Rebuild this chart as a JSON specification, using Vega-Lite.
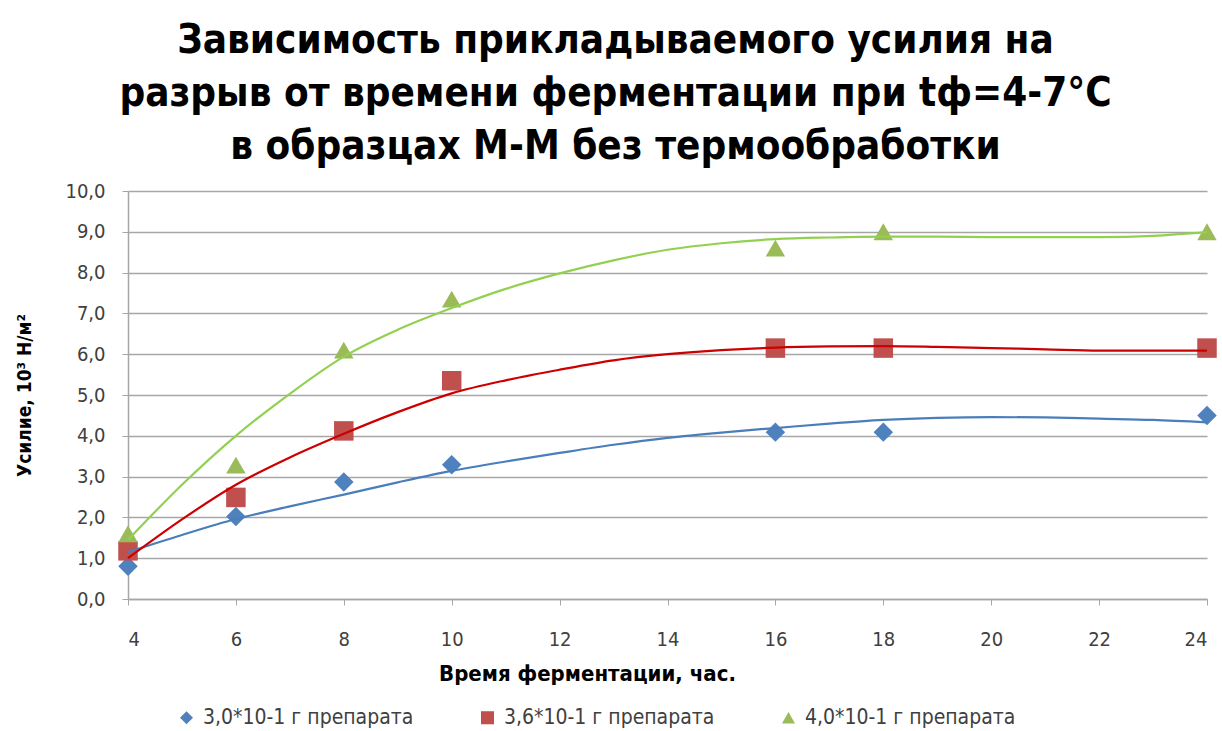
{
  "$schema": "https://vega.github.io/schema/vega-lite/v6.json",
  "width": 1079,
  "height": 408,
  "autosize": {"type": "none"},
  "padding": {"left": 128, "top": 191, "right": 15, "bottom": 132},
  "background": "white",
  "config": {
    "font": "DejaVu Sans Condensed, DejaVu Sans, sans-serif",
    "view": {"stroke": null}
  },
  "title": {
    "text": ["Зависимость прикладываемого усилия на", "разрыв от времени ферментации при tф=4-7°C", "в образцах М-М без термообработки"],
    "fontSize": 40,
    "fontWeight": "bold",
    "color": "#000000",
    "lineHeight": 53,
    "anchor": "middle",
    "dx": -52,
    "offset": 14,
    "font": "DejaVu Sans Condensed, DejaVu Sans, sans-serif"
  },
  "datasets": {
    "points": [
      {"series": "3,0*10-1 г препарата", "time": 4, "force": 0.8},
      {"series": "3,0*10-1 г препарата", "time": 6, "force": 2.02},
      {"series": "3,0*10-1 г препарата", "time": 8, "force": 2.87},
      {"series": "3,0*10-1 г препарата", "time": 10, "force": 3.29},
      {"series": "3,0*10-1 г препарата", "time": 16, "force": 4.09},
      {"series": "3,0*10-1 г препарата", "time": 18, "force": 4.09},
      {"series": "3,0*10-1 г препарата", "time": 24, "force": 4.5},
      {"series": "3,6*10-1 г препарата", "time": 4, "force": 1.18},
      {"series": "3,6*10-1 г препарата", "time": 6, "force": 2.49},
      {"series": "3,6*10-1 г препарата", "time": 8, "force": 4.12},
      {"series": "3,6*10-1 г препарата", "time": 10, "force": 5.35},
      {"series": "3,6*10-1 г препарата", "time": 16, "force": 6.15},
      {"series": "3,6*10-1 г препарата", "time": 18, "force": 6.15},
      {"series": "3,6*10-1 г препарата", "time": 24, "force": 6.15},
      {"series": "4,0*10-1 г препарата", "time": 4, "force": 1.6},
      {"series": "4,0*10-1 г препарата", "time": 6, "force": 3.28},
      {"series": "4,0*10-1 г препарата", "time": 8, "force": 6.1},
      {"series": "4,0*10-1 г препарата", "time": 10, "force": 7.35},
      {"series": "4,0*10-1 г препарата", "time": 16, "force": 8.6},
      {"series": "4,0*10-1 г препарата", "time": 18, "force": 9.0},
      {"series": "4,0*10-1 г препарата", "time": 24, "force": 9.0}
    ],
    "trend": [
      {"series": "3,0*10-1 г препарата", "time": 4, "force": 1.15},
      {"series": "3,0*10-1 г препарата", "time": 5, "force": 1.57},
      {"series": "3,0*10-1 г препарата", "time": 6, "force": 1.96},
      {"series": "3,0*10-1 г препарата", "time": 7, "force": 2.27},
      {"series": "3,0*10-1 г препарата", "time": 8, "force": 2.56},
      {"series": "3,0*10-1 г препарата", "time": 9, "force": 2.86},
      {"series": "3,0*10-1 г препарата", "time": 10, "force": 3.14},
      {"series": "3,0*10-1 г препарата", "time": 11, "force": 3.37},
      {"series": "3,0*10-1 г препарата", "time": 12, "force": 3.58},
      {"series": "3,0*10-1 г препарата", "time": 13, "force": 3.78},
      {"series": "3,0*10-1 г препарата", "time": 14, "force": 3.95},
      {"series": "3,0*10-1 г препарата", "time": 15, "force": 4.08},
      {"series": "3,0*10-1 г препарата", "time": 16, "force": 4.19},
      {"series": "3,0*10-1 г препарата", "time": 17, "force": 4.3},
      {"series": "3,0*10-1 г препарата", "time": 18, "force": 4.39},
      {"series": "3,0*10-1 г препарата", "time": 19, "force": 4.44},
      {"series": "3,0*10-1 г препарата", "time": 20, "force": 4.46},
      {"series": "3,0*10-1 г препарата", "time": 21, "force": 4.45},
      {"series": "3,0*10-1 г препарата", "time": 22, "force": 4.42},
      {"series": "3,0*10-1 г препарата", "time": 23, "force": 4.39},
      {"series": "3,0*10-1 г препарата", "time": 24, "force": 4.33},
      {"series": "3,6*10-1 г препарата", "time": 4, "force": 1.0},
      {"series": "3,6*10-1 г препарата", "time": 5, "force": 1.95},
      {"series": "3,6*10-1 г препарата", "time": 6, "force": 2.8},
      {"series": "3,6*10-1 г препарата", "time": 7, "force": 3.47},
      {"series": "3,6*10-1 г препарата", "time": 8, "force": 4.05},
      {"series": "3,6*10-1 г препарата", "time": 9, "force": 4.58},
      {"series": "3,6*10-1 г препарата", "time": 10, "force": 5.04},
      {"series": "3,6*10-1 г препарата", "time": 11, "force": 5.36},
      {"series": "3,6*10-1 г препарата", "time": 12, "force": 5.62},
      {"series": "3,6*10-1 г препарата", "time": 13, "force": 5.85},
      {"series": "3,6*10-1 г препарата", "time": 14, "force": 6.0},
      {"series": "3,6*10-1 г препарата", "time": 15, "force": 6.1},
      {"series": "3,6*10-1 г препарата", "time": 16, "force": 6.16},
      {"series": "3,6*10-1 г препарата", "time": 17, "force": 6.19},
      {"series": "3,6*10-1 г препарата", "time": 18, "force": 6.2},
      {"series": "3,6*10-1 г препарата", "time": 19, "force": 6.18},
      {"series": "3,6*10-1 г препарата", "time": 20, "force": 6.15},
      {"series": "3,6*10-1 г препарата", "time": 21, "force": 6.12},
      {"series": "3,6*10-1 г препарата", "time": 22, "force": 6.09},
      {"series": "3,6*10-1 г препарата", "time": 23, "force": 6.09},
      {"series": "3,6*10-1 г препарата", "time": 24, "force": 6.09},
      {"series": "4,0*10-1 г препарата", "time": 4, "force": 1.45},
      {"series": "4,0*10-1 г препарата", "time": 5, "force": 2.8},
      {"series": "4,0*10-1 г препарата", "time": 6, "force": 4.0},
      {"series": "4,0*10-1 г препарата", "time": 7, "force": 5.03},
      {"series": "4,0*10-1 г препарата", "time": 8, "force": 5.94},
      {"series": "4,0*10-1 г препарата", "time": 9, "force": 6.6},
      {"series": "4,0*10-1 г препарата", "time": 10, "force": 7.13},
      {"series": "4,0*10-1 г препарата", "time": 11, "force": 7.6},
      {"series": "4,0*10-1 г препарата", "time": 12, "force": 7.98},
      {"series": "4,0*10-1 г препарата", "time": 13, "force": 8.3},
      {"series": "4,0*10-1 г препарата", "time": 14, "force": 8.56},
      {"series": "4,0*10-1 г препарата", "time": 15, "force": 8.72},
      {"series": "4,0*10-1 г препарата", "time": 16, "force": 8.82},
      {"series": "4,0*10-1 г препарата", "time": 17, "force": 8.86},
      {"series": "4,0*10-1 г препарата", "time": 18, "force": 8.88},
      {"series": "4,0*10-1 г препарата", "time": 19, "force": 8.88},
      {"series": "4,0*10-1 г препарата", "time": 20, "force": 8.87},
      {"series": "4,0*10-1 г препарата", "time": 21, "force": 8.87},
      {"series": "4,0*10-1 г препарата", "time": 22, "force": 8.87},
      {"series": "4,0*10-1 г препарата", "time": 23, "force": 8.9},
      {"series": "4,0*10-1 г препарата", "time": 24, "force": 8.99}
    ]
  },
  "encoding": {
    "x": {
      "field": "time",
      "type": "quantitative",
      "scale": {"domain": [4, 24], "nice": false, "zero": false},
      "axis": {
        "title": "Время ферментации, час.",
        "values": [4, 6, 8, 10, 12, 14, 16, 18, 20, 22, 24],
        "grid": false,
        "domainColor": "#A6A6A6",
        "domainWidth": 1.5,
        "tickColor": "#A6A6A6",
        "tickSize": 6,
        "labelPadding": 24,
        "labelFontSize": 20,
        "labelColor": "#404040",
        "titleFontSize": 22,
        "titleFontWeight": "bold",
        "titleColor": "#000000",
        "titlePadding": 14,
        "titleX": 459
      }
    },
    "y": {
      "field": "force",
      "type": "quantitative",
      "scale": {"domain": [0, 10], "nice": false},
      "axis": {
        "title": "Усилие, 10³ Н/м²",
        "values": [0, 1, 2, 3, 4, 5, 6, 7, 8, 9, 10],
        "labelExpr": "replace(format(datum.value, '.1f'), '.', ',')",
        "gridColor": "#A6A6A6",
        "gridWidth": 1.5,
        "domainColor": "#A6A6A6",
        "domainWidth": 1.5,
        "tickColor": "#A6A6A6",
        "tickSize": 6,
        "labelPadding": 17,
        "labelFontSize": 20,
        "labelColor": "#404040",
        "titleFontSize": 19,
        "titleFontWeight": "bold",
        "titleColor": "#000000",
        "titlePadding": 30
      }
    }
  },
  "layer": [
    {
      "data": {"name": "points"},
      "mark": {"type": "point", "filled": true, "opacity": 1, "size": 380},
      "encoding": {
        "color": {
          "field": "series",
          "type": "nominal",
          "scale": {"range": ["#4F81BD", "#C0504D", "#9BBB59"]},
          "legend": {
            "orient": "none",
            "legendX": 48,
            "legendY": 516,
            "direction": "horizontal",
            "title": null,
            "labelFontSize": 21,
            "labelColor": "#404040",
            "labelLimit": 0,
            "symbolSize": 170,
            "columnPadding": 63,
            "labelOffset": 6
          }
        },
        "shape": {
          "field": "series",
          "type": "nominal",
          "scale": {"range": ["diamond", "square", "triangle-up"]}
        }
      }
    },
    {
      "data": {"name": "trend"},
      "mark": {"type": "line", "strokeWidth": 2.2, "interpolate": "monotone"},
      "encoding": {
        "stroke": {
          "field": "series",
          "type": "nominal",
          "scale": {"range": ["#4A7EBB", "#CC0000", "#92D050"]},
          "legend": null
        }
      }
    }
  ],
  "resolve": {"scale": {"stroke": "independent"}}
}
